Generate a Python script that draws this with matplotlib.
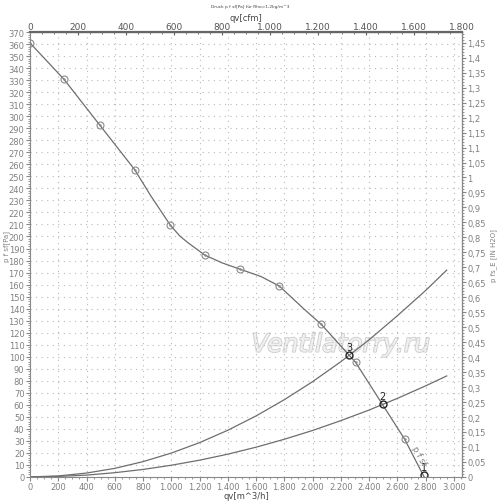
import numpy as np
import matplotlib
matplotlib.use("Agg")
import matplotlib.pyplot as plt
import matplotlib.patheffects as pe
from matplotlib.ticker import MultipleLocator, FuncFormatter

# fan curve p f sf [Pa] over qv [m^3/h]
fan_q = [0, 241, 493, 741, 854, 994, 1060, 1114, 1180, 1236, 1361, 1484, 1633, 1765, 1940, 2062, 2305, 2652, 2790]
fan_p = [361, 330.7, 292.8, 255.6, 234, 209.3, 200.5, 195.2, 189.5, 184.6, 178, 172.9, 166.8, 158.8, 139.6, 126.9, 95.3, 31.4, 0]
# measured points (circles)
mark_q = [0, 241, 493, 741, 994, 1236, 1484, 1765, 2062, 2305, 2652]
mark_p = [361, 330.7, 292.8, 255.6, 209.3, 184.6, 172.9, 158.8, 126.9, 95.3, 31.4]

# system curves
sys_q = [0, 200, 400, 600, 800, 1000, 1200, 1400, 1600, 1800, 2000, 2200, 2400, 2600, 2800, 2950]
sys3_p = [0, 0.8, 3.2, 7.1, 12.7, 19.8, 28.5, 38.8, 50.7, 64.2, 79.2, 95.8, 114, 134, 155, 172]
sys2_p = [0, 0.4, 1.5, 3.5, 6.2, 9.7, 13.9, 18.9, 24.7, 31.3, 38.6, 46.8, 55.6, 65.3, 75.7, 84]

# operating points
op_q = [2786, 2498, 2258]
op_p = [1.5, 60.3, 101]
op_lbl = ["1", "2", "3"]

CFM = 1.69901
PA_INH2O = 249.089
XMAX = 1800 * CFM

grey = "#6e6e6e"
txt = "#808080"
fs = 6

fig = plt.figure(figsize=(5.0, 5.02), dpi=100)
ax = fig.add_axes([0.06, 0.048, 0.864, 0.886])

ax.plot(fan_q, fan_p, color=grey, lw=0.9)
ax.plot(mark_q, mark_p, "o", ms=5, mfc="none", mec="#8a8a8a", mew=0.8)
ax.plot(mark_q, mark_p, ".", ms=1.5, color="#8a8a8a")
ax.plot(sys_q, sys3_p, color=grey, lw=0.9)
ax.plot(sys_q, sys2_p, color=grey, lw=0.9)
ax.plot(op_q, op_p, "o", ms=5, mfc="none", mec="#222222", mew=1.0)
for q, p, s in zip(op_q, op_p, op_lbl):
    ax.text(q, p + 2.5, s, fontsize=7, color="#222222", ha="center", va="bottom")
ax.text(2755, 18, "p f sf", fontsize=6, color=txt, rotation=-62,
        ha="center", va="center")

# watermark
wm = ax.text(2200, 110, "Ventilatorry.ru", fontsize=18, style="italic", color="#f0f0f0",
             ha="center", va="center", zorder=0.5, family="DejaVu Sans")
wm.set_path_effects([pe.withStroke(linewidth=1.3, foreground="#cfcfcf")])

ax.set_xlim(0, XMAX)
ax.set_ylim(0, 370)
ax.xaxis.set_major_locator(MultipleLocator(200))
ax.xaxis.set_minor_locator(MultipleLocator(50))
ax.yaxis.set_major_locator(MultipleLocator(10))
ax.yaxis.set_minor_locator(MultipleLocator(2))
ax.xaxis.set_major_formatter(FuncFormatter(lambda v, p: f"{v:,.0f}".replace(",", ".")))
ax.grid(True, which="major", color="#b8b8b8", lw=0.8, ls=(0, (1, 4)))

for s in ax.spines.values():
    s.set_color("#888888")
ax.spines["top"].set_linewidth(1.6)
ax.spines["top"].set_color("#666666")
ax.tick_params(which="both", colors="#888888", labelcolor=txt, labelsize=fs, direction="out")
ax.tick_params(which="major", length=3, pad=1)
ax.tick_params(which="minor", length=1.5)

ax.set_xlabel("qv[m^3/h]", fontsize=fs, color="#444444", labelpad=0)
ax.set_ylabel("p f sf[Pa]", fontsize=5, color=txt, labelpad=1)
ax.yaxis.set_label_coords(-0.047, 0.52)

top = ax.secondary_xaxis("top", functions=(lambda q: q / CFM, lambda c: c * CFM))
top.xaxis.set_major_locator(MultipleLocator(200))
top.xaxis.set_minor_locator(MultipleLocator(50))
top.xaxis.set_major_formatter(FuncFormatter(lambda v, p: f"{v:,.0f}".replace(",", ".")))
top.tick_params(which="both", colors="#666666", labelcolor="#555555", labelsize=fs + 0.5, direction="in")
top.tick_params(which="major", length=2.5, pad=1)
top.tick_params(which="minor", length=1.5)
top.set_xlabel("qv[cfm]", fontsize=fs, color="#444444", labelpad=1)

right = ax.secondary_yaxis("right", functions=(lambda p: p / PA_INH2O, lambda h: h * PA_INH2O))
right.yaxis.set_major_locator(MultipleLocator(0.05))
right.yaxis.set_minor_locator(MultipleLocator(0.01))
right.yaxis.set_major_formatter(FuncFormatter(lambda v, p: f"{v:.2f}".rstrip("0").rstrip(".").replace(".", ",")))
right.tick_params(which="both", colors="#888888", labelcolor=txt, labelsize=fs, direction="out")
right.tick_params(which="major", length=3, pad=1)
right.tick_params(which="minor", length=1.5)
right.set_ylabel("p fs_E [IN H2O]", fontsize=5, color=txt, labelpad=3)

fig.text(0.5, 0.986, "Druck p f sf[Pa] für Rho=1,2kg/m^3", fontsize=3.2, color="#444444",
         ha="center", va="center")

fig.savefig("out.png", dpi=100)
